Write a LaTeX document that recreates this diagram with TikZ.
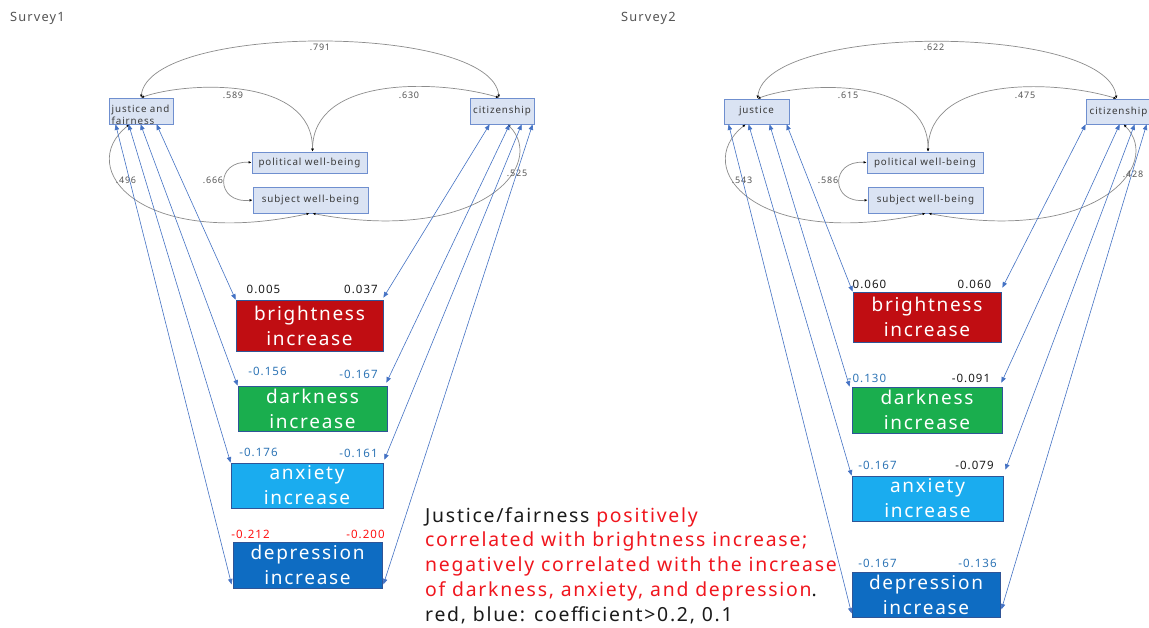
\documentclass[tikz,border=0pt]{standalone}
\usepackage{fontspec}
\setmainfont{Noto Sans}[LetterSpace=9]
\usetikzlibrary{arrows.meta,calc}
\definecolor{boxfill}{HTML}{DAE3F3}
\definecolor{boxdraw}{HTML}{6F8FCF}
\definecolor{txtgray}{HTML}{3A3A3A}
\definecolor{labgray}{HTML}{555555}
\definecolor{arcgray}{HTML}{8C8C8C}
\definecolor{arrowblue}{HTML}{4472C4}
\definecolor{coefblue}{HTML}{2E75B6}
\definecolor{coefred}{HTML}{FF1010}
\definecolor{brightred}{HTML}{C00D12}
\definecolor{darkgreen}{HTML}{1AAE4E}
\definecolor{anxblue}{HTML}{1AACEF}
\definecolor{depblue}{HTML}{0E6CC2}
\definecolor{outline}{HTML}{2F5597}
\definecolor{txtred}{HTML}{F0161E}
\definecolor{txtblack}{HTML}{1A1A1A}
\tikzset{
  smallbox/.style={draw=boxdraw, fill=boxfill, line width=0.8pt, text=txtgray,
    font=\fontsize{9.8}{12}\selectfont, inner sep=0pt},
  outbox/.style={draw=outline, line width=0.8pt, text=white,
    font=\fontsize{19}{25}\selectfont, align=center, inner sep=0pt},
  corr/.style={draw=arcgray, line width=0.7pt,
    {Latex[length=3pt,width=2.6pt,black]}-{Latex[length=3pt,width=2.6pt,black]}},
  link/.style={draw=arrowblue, line width=0.6pt,
    {Triangle[length=5.5pt,width=4.5pt]}-{Triangle[length=5.5pt,width=4.5pt]}},
  coef/.style={font=\fontsize{11.5}{12}\selectfont, inner sep=0pt},
  rlab/.style={text=labgray, font=\fontsize{9}{10}\selectfont, inner sep=0pt},
  title/.style={text=labgray, font=\fontsize{12.8}{14}\selectfont, inner sep=0pt, anchor=west}
}
\begin{document}
\begin{tikzpicture}[x=1pt,y=-1pt]
\path[use as bounding box, fill=white] (0,0) rectangle (1149,627);

% ---------------- Survey 1 ----------------
\node[title] (T1) at (10,18) {Survey1};
\node[smallbox, minimum width=64pt, minimum height=26pt] (J1) at (141,111) {};
\node[anchor=north west, align=left, inner sep=0pt, text=txtgray,
      font=\fontsize{9.8}{12}\selectfont] (J1t) at (111.5,104.5) {justice and\\fairness};
\node[smallbox, minimum width=64pt, minimum height=26pt] (C1) at (502,111) {citizenship};
\node[smallbox, minimum width=115pt, minimum height=21pt] (P1) at (309.5,162.5) {political well-being};
\node[smallbox, minimum width=115pt, minimum height=26pt] (S1) at (310.5,200) {subject well-being};

\node[outbox, fill=brightred, minimum width=147pt, minimum height=51pt] (B1) at (309.5,325.5) {brightness\\increase};
\node[outbox, fill=darkgreen, minimum width=149pt, minimum height=45pt] (D1) at (312.5,408.5) {darkness\\increase};
\node[outbox, fill=anxblue, minimum width=152pt, minimum height=45pt] (A1) at (307,485.5) {anxiety\\increase};
\node[outbox, fill=depblue, minimum width=149pt, minimum height=46pt] (E1) at (307.5,565) {depression\\increase};

\draw[corr] (J1.north) .. controls (150,23) and (491,23) .. ($(C1.north)+(-3,0)$);
\draw[corr] (J1.north) .. controls (185,82) and (313,75) .. ($(P1.north)+(3,0)$);
\draw[corr] ($(P1.north)+(3,0)$) .. controls (313,75) and (440,80) .. ($(C1.north)+(-3,0)$);
\draw[corr] (P1.west) .. controls (215,160) and (215,204) .. (S1.west);
\draw[corr] ($(J1.south west)+(21,0)$) .. controls (74,168) and (140,250) .. ($(S1.south)+(-1,0)$);
\draw[corr] ($(C1.south west)+(38,0)$) .. controls (548,165) and (480,245) .. ($(S1.south)+(2,0)$);

\node[rlab] (r791) at (320,47) {.791};
\node[rlab] (r589) at (233,95) {.589};
\node[rlab] (r630) at (409,95) {.630};
\node[rlab] (r666) at (213,180) {.666};
\node[rlab] (r496) at (126,180) {.496};
\node[rlab] (r525) at (517,173) {.525};

\draw[link] ($(J1.south west)+(7,0)$) -- ($(E1.south west)+(-1,-4)$);
\draw[link] ($(J1.south west)+(20,0)$) -- (A1.north west);
\draw[link] ($(J1.south west)+(32,0)$) -- (D1.north west);
\draw[link] ($(J1.south west)+(48,0)$) -- (B1.north west);
\draw[link] ($(C1.south west)+(20,0)$) -- ($(B1.north east)+(0,-2)$);
\draw[link] ($(C1.south west)+(40,0)$) -- ($(D1.north east)+(-1,-3)$);
\draw[link] ($(C1.south west)+(52,0)$) -- ($(A1.north east)+(1,-3)$);
\draw[link] ($(C1.south west)+(63,0)$) -- ($(E1.south east)+(1,-4)$);

\node[coef, text=txtblack] (k1a) at (263.5,289) {0.005};
\node[coef, text=txtblack] (k1b) at (361,289) {0.037};
\node[coef, text=coefblue] (k1c) at (267.5,371) {-0.156};
\node[coef, text=coefblue] (k1d) at (358.5,374) {-0.167};
\node[coef, text=coefblue] (k1e) at (258.5,452) {-0.176};
\node[coef, text=coefblue] (k1f) at (358.5,453) {-0.161};
\node[coef, text=coefred] (k1g) at (250.5,534) {-0.212};
\node[coef, text=coefred] (k1h) at (365.5,534) {-0.200};

% ---------------- Survey 2 ----------------
\node[title] (T2) at (621,18) {Survey2};
\node[smallbox, minimum width=65pt, minimum height=25pt] (J2) at (756.5,111.5) {justice};
\node[smallbox, minimum width=65pt, minimum height=25pt] (C2) at (1118.5,111.5) {citizenship};
\node[smallbox, minimum width=116pt, minimum height=21pt] (P2) at (925,162.5) {political well-being};
\node[smallbox, minimum width=115pt, minimum height=26pt] (S2) at (925.5,200) {subject well-being};

\node[outbox, fill=brightred, minimum width=148pt, minimum height=50pt] (B2) at (927,317) {brightness\\increase};
\node[outbox, fill=darkgreen, minimum width=150pt, minimum height=46pt] (D2) at (927,410) {darkness\\increase};
\node[outbox, fill=anxblue, minimum width=151pt, minimum height=45pt] (A2) at (927.5,498.5) {anxiety\\increase};
\node[outbox, fill=depblue, minimum width=148pt, minimum height=45pt] (E2) at (926,594.5) {depression\\increase};

\draw[corr] ($(J2.north)+(1,0)$) .. controls (766,23) and (1107,23) .. ($(C2.north)+(-2,0)$);
\draw[corr] ($(J2.north)+(1,0)$) .. controls (801,82) and (929,75) .. ($(P2.north)+(3,0)$);
\draw[corr] ($(P2.north)+(3,0)$) .. controls (929,75) and (1056,80) .. ($(C2.north)+(-2,0)$);
\draw[corr] (P2.west) .. controls (830,160) and (830,204) .. (S2.west);
\draw[corr] ($(J2.south west)+(22,0)$) .. controls (690,168) and (756,250) .. ($(S2.south)+(0,0)$);
\draw[corr] ($(C2.south west)+(38,0)$) .. controls (1164,165) and (1096,245) .. ($(S2.south)+(3,0)$);

\node[rlab] (r622) at (934,47) {.622};
\node[rlab] (r615) at (848,95) {.615};
\node[rlab] (r475) at (1025,95) {.475};
\node[rlab] (r586) at (828,180) {.586};
\node[rlab] (r543) at (742,180) {.543};
\node[rlab] (r428) at (1133,174) {.428};

\draw[link] ($(J2.south west)+(5,0)$) -- ($(E2.south west)+(0,-4)$);
\draw[link] ($(J2.south west)+(25,0)$) -- (A2.north west);
\draw[link] ($(J2.south west)+(46,0)$) -- ($(D2.north west)+(-2,0)$);
\draw[link] ($(J2.south west)+(63,0)$) -- (B2.north west);
\draw[link] ($(C2.south west)+(0,0)$) -- ($(B2.north east)+(1,-4)$);
\draw[link] ($(C2.south west)+(34,0)$) -- ($(D2.north east)+(-1,-4)$);
\draw[link] ($(C2.south west)+(49,0)$) -- ($(A2.north east)+(2,-6)$);
\draw[link] ($(C2.south west)+(61,0)$) -- ($(E2.south east)+(1,-8)$);

\node[coef, text=txtblack] (k2a) at (869.5,284) {0.060};
\node[coef, text=txtblack] (k2b) at (974.5,284) {0.060};
\node[coef, text=coefblue] (k2c) at (867,378) {-0.130};
\node[coef, text=txtblack] (k2d) at (971,378) {-0.091};
\node[coef, text=coefblue] (k2e) at (877.5,465) {-0.167};
\node[coef, text=txtblack] (k2f) at (974.5,465) {-0.079};
\node[coef, text=coefblue] (k2g) at (877.5,563) {-0.167};
\node[coef, text=coefblue] (k2h) at (977.5,563) {-0.136};

% ---------------- note ----------------
\node[anchor=base west, align=left, inner sep=0pt, text=txtblack,
      font=\fontsize{19.4}{24.7}\selectfont] (note) at (425,621)
 {Justice/fairness {\color{txtred}positively}\\
  {\color{txtred}correlated with brightness increase;}\\
  {\color{txtred}negatively correlated with the increase}\\
  {\color{txtred}of darkness, anxiety, and depression}.\\
  red, blue: coefficient>0.2, 0.1};
\end{tikzpicture}
\end{document}
